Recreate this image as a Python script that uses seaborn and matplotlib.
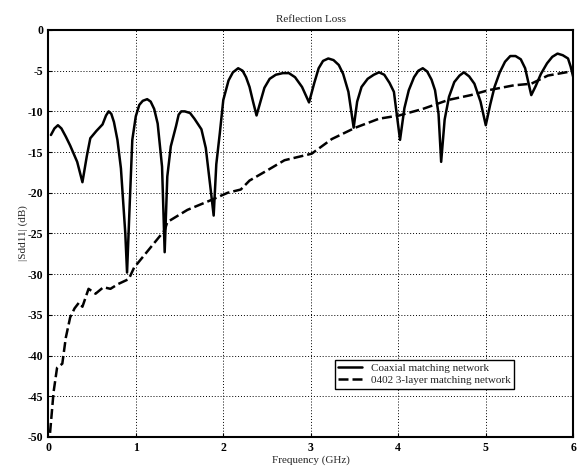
import pandas as pd
import matplotlib.pyplot as plt
import seaborn as sns

## Datos (frecuencia en GHz, |Sdd11| en dB)

f_coax = [0.03, 0.07, 0.11, 0.15, 0.20, 0.25, 0.33, 0.39, 0.44, 0.48,
          0.55, 0.62, 0.66, 0.69, 0.72, 0.75, 0.79, 0.83, 0.88, 0.90,
          0.93, 0.96, 1.00, 1.04, 1.08, 1.13, 1.17, 1.21, 1.25, 1.30,
          1.33, 1.36, 1.40, 1.46, 1.49, 1.52, 1.56, 1.62, 1.67, 1.75,
          1.80, 1.86, 1.89, 1.92, 1.96, 2.00, 2.06, 2.11, 2.17, 2.22,
          2.26, 2.30, 2.34, 2.38, 2.43, 2.47, 2.53, 2.60, 2.68, 2.75,
          2.82, 2.90, 2.98, 3.04, 3.09, 3.14, 3.20, 3.26, 3.32, 3.37,
          3.43, 3.49, 3.53, 3.58, 3.65, 3.72, 3.78, 3.84, 3.90, 3.95,
          4.02, 4.07, 4.12, 4.18, 4.23, 4.28, 4.33, 4.38, 4.42, 4.46,
          4.49, 4.53, 4.58, 4.64, 4.70, 4.75, 4.81, 4.87, 4.94, 5.00,
          5.05, 5.10, 5.16, 5.22, 5.28, 5.34, 5.40, 5.45, 5.49, 5.52,
          5.57, 5.63, 5.70, 5.76, 5.82, 5.88, 5.94, 5.97, 6.00]
rl_coax = [-12.9, -12.1, -11.7, -12.1, -13.1, -14.2, -16.2, -18.7, -15.5, -13.3,
           -12.4, -11.6, -10.5, -10.0, -10.3, -11.3, -13.5, -17.0, -25.0, -29.8,
           -21.5, -13.5, -10.6, -9.2, -8.7, -8.5, -8.8, -9.7, -11.5, -16.8,
           -27.3, -18.0, -14.3, -11.8, -10.4, -10.0, -10.0, -10.2, -10.9, -12.2,
           -14.5, -20.0, -22.8, -16.5, -12.7, -8.6, -6.2, -5.2, -4.7, -5.0,
           -5.8, -7.0, -8.8, -10.5, -8.6, -7.1, -6.0, -5.5, -5.3, -5.3,
           -5.8, -7.0, -8.9, -6.5, -4.7, -3.8, -3.5, -3.7, -4.3, -5.4,
           -7.6, -12.0, -8.8, -7.0, -6.0, -5.5, -5.2, -5.5, -6.5, -7.6,
           -13.5, -9.6, -7.4, -5.8, -5.0, -4.7, -5.1, -6.1, -7.4, -10.3,
           -16.2, -11.0, -8.2, -6.4, -5.6, -5.2, -5.7, -6.6, -8.8, -11.7,
           -9.2, -7.0, -5.2, -3.9, -3.2, -3.2, -3.6, -4.7, -6.6, -8.0,
           -6.9, -5.4, -4.1, -3.3, -2.9, -3.1, -3.5, -4.5, -5.8]

f_0402 = [0.02, 0.04, 0.06, 0.10, 0.16, 0.20, 0.25, 0.30, 0.35, 0.39,
          0.46, 0.54, 0.63, 0.71, 0.80, 0.92, 0.98, 1.14, 1.33, 1.36,
          1.59, 1.86, 2.05, 2.20, 2.30, 2.51, 2.70, 3.01, 3.24, 3.51,
          3.78, 4.01, 4.28, 4.57, 4.83, 5.03, 5.32, 5.52, 5.71, 5.97]
rl_0402 = [-49.5, -47.0, -44.5, -41.5, -41.0, -37.8, -35.3, -34.2, -33.5, -34.0,
           -31.8, -32.4, -31.6, -31.8, -31.2, -30.6, -29.2, -27.1, -24.6, -23.6,
           -22.1, -20.9, -20.0, -19.6, -18.5, -17.2, -16.0, -15.2, -13.4, -12.0,
           -10.9, -10.5, -9.7, -8.6, -8.0, -7.4, -6.8, -6.6, -5.6, -5.1]

etiquetas = ['Coaxial matching network', '0402 3-layer matching network']

df_coax = pd.DataFrame({'Frecuencia': f_coax, 'RL': rl_coax, 'Red': etiquetas[0]})
df_0402 = pd.DataFrame({'Frecuencia': f_0402, 'RL': rl_0402, 'Red': etiquetas[1]})
df = pd.concat([df_coax, df_0402], ignore_index=True)

## Gráfico

sns.set_style('ticks')
plt.rcParams['font.family'] = ['Liberation Serif', 'DejaVu Serif']
plt.rcParams['axes.unicode_minus'] = False

fig = plt.figure(figsize=(5.82, 4.76), dpi=100)
ax = fig.add_axes([0.083, 0.082, 0.902, 0.855])

sns.lineplot(data=df, x='Frecuencia', y='RL', hue='Red', style='Red',
             palette=['black', 'black'], dashes=[(None, None), (4, 1.6)],
             linewidth=1.8, sort=False, ax=ax)

ax.set_xlim(0, 6)
ax.set_ylim(-50, 0)
ax.set_xticks(range(0, 7))
ax.set_yticks(range(-50, 1, 5))
ax.grid(True, color='black', linestyle=(0, (1, 2)), linewidth=0.7)
ax.tick_params(direction='in', labelsize=8.5, length=3, colors='black')
for lbl in ax.get_xticklabels() + ax.get_yticklabels():
    lbl.set_fontweight('bold')
for s in ax.spines.values():
    s.set_linewidth(1.5)
    s.set_color('black')

ax.set_title('Reflection Loss', fontsize=8, pad=6)
ax.set_xlabel('Frequency (GHz)', fontsize=8, labelpad=1)
ax.set_ylabel('|Sdd11| (dB)', fontsize=8, labelpad=0)

ax.legend(title=None, loc='lower left', bbox_to_anchor=(0.535, 0.105), fontsize=8,
          frameon=True, fancybox=False, edgecolor='black', handlelength=2.2,
          borderpad=0.3, labelspacing=0.2, framealpha=1)

plt.savefig('out.png', dpi=100)
